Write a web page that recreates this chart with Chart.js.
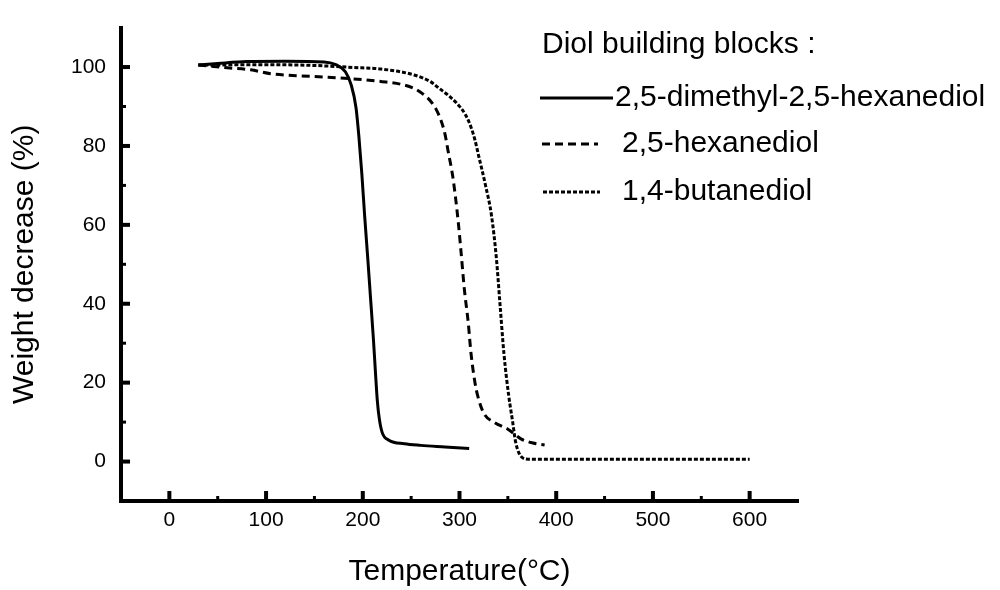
<!DOCTYPE html>
<html>
<head>
<meta charset="utf-8">
<script src="https://cdn.jsdelivr.net/npm/chart.js@4.4.1/dist/chart.umd.min.js"></script>
<style>
  html, body { margin: 0; padding: 0; background: #fff; }
  #wrap { width: 1000px; height: 590px; position: relative; }
</style>
</head>
<body>
<div id="wrap"><canvas id="chart-tga"></canvas></div>
<script>
/* -------------------------------------------------- */
/* Data                        */
/* -------------------------------------------------- */

const SERIES_LABELS = [
  '2,5-dimethyl-2,5-hexanediol',
  '2,5-hexanediol',
  '1,4-butanediol',
];

// 2,5-dimethyl-2,5-hexanediol (solid)
const TEMP_DMHD   = [30, 50, 80, 120, 160, 172, 182, 188, 193, 196, 199, 202, 205, 208, 211, 213, 215, 217, 220, 227, 243, 260, 285, 310];
const WEIGHT_DMHD = [100.5, 100.9, 101.4, 101.5, 101.3, 100.6, 98.8, 95.5, 89.7, 82.3, 73, 62, 52, 41.5, 31, 23, 15.5, 11, 7.4, 5.4, 4.5, 4.1, 3.7, 3.3];

// 2,5-hexanediol (dashed)
const TEMP_HD   = [30, 60, 84, 105, 150, 190, 220, 240, 253, 262, 270, 276, 281, 285, 288, 293, 296, 299, 302, 305, 309, 312, 316, 319, 325, 336, 350, 364, 376, 388];
const WEIGHT_HD = [100.5, 99.8, 99.3, 98.3, 97.6, 97, 96.3, 95.6, 94.6, 93.2, 91.4, 89.2, 86.4, 83, 79, 72.3, 66.7, 60, 52, 43.7, 35.3, 27.2, 20, 16.5, 12.3, 9.9, 8.2, 5.7, 4.7, 4.2];

// 1,4-butanediol (dotted)
const TEMP_BD   = [30, 100, 150, 190, 219, 253, 270, 279, 290, 298, 306, 312, 316, 320, 327, 333, 338, 342, 346, 351, 355, 358, 364, 371, 400, 500, 600];
const WEIGHT_BD = [100.5, 100.6, 100.4, 99.9, 99.5, 98, 96.3, 94.6, 92.5, 90.6, 88, 84.7, 81.5, 77.3, 69.9, 62.5, 51.9, 39.5, 27.2, 16.5, 10, 5, 1.2, 0.6, 0.6, 0.6, 0.6];

const X_TICKS = [0, 100, 200, 300, 400, 500, 600];
const X_MINOR = [50, 150, 250, 350, 450, 550];
const Y_TICKS = [0, 20, 40, 60, 80, 100];
const Y_MINOR = [10, 30, 50, 70, 90];

const FONT = "'Liberation Sans', Arial, Helvetica, sans-serif";

/* -------------------------------------------------- */
/* Helpers                                             */
/* -------------------------------------------------- */

function toPoints(xs, ys) {
  return xs.map((x, i) => ({ x, y: ys[i] }));
}

function line(ctx, x1, y1, x2, y2) {
  ctx.beginPath();
  ctx.moveTo(x1, y1);
  ctx.lineTo(x2, y2);
  ctx.stroke();
}

// inward tick marks, like the original plot
const innerTicks = {
  id: 'innerTicks',
  afterDraw(chart) {
    const { ctx, chartArea: a, scales: { x, y } } = chart;
    ctx.save();
    ctx.strokeStyle = '#000';
    ctx.lineWidth = 4;
    X_TICKS.forEach(v => { const px = x.getPixelForValue(v); line(ctx, px, a.bottom, px, a.bottom - 10); });
    Y_TICKS.forEach(v => { const py = y.getPixelForValue(v); line(ctx, a.left, py, a.left + 9, py); });
    ctx.lineWidth = 3;
    X_MINOR.forEach(v => { const px = x.getPixelForValue(v); line(ctx, px, a.bottom, px, a.bottom - 5); });
    Y_MINOR.forEach(v => { const py = y.getPixelForValue(v); line(ctx, a.left, py, a.left + 5, py); });
    ctx.restore();
  },
};

// legend block in the top right corner
const diolLegend = {
  id: 'diolLegend',
  afterDraw(chart) {
    const { ctx } = chart;
    ctx.save();
    ctx.fillStyle = '#000';
    ctx.font = '30px ' + FONT;
    ctx.textBaseline = 'middle';
    ctx.fillText('Diol building blocks :', 542, 45);

    const rows = [
      { y: 98,  x0: 540, x1: 613, tx: 615 },
      { y: 144, x0: 542, x1: 598, tx: 622 },
      { y: 192, x0: 543, x1: 600, tx: 622 },
    ];
    chart.data.datasets.forEach((ds, i) => {
      const r = rows[i];
      ctx.strokeStyle = '#000';
      ctx.lineWidth = ds.borderWidth;
      ctx.setLineDash(ds.borderDash || []);
      line(ctx, r.x0, r.y, r.x1, r.y);
      ctx.setLineDash([]);
      ctx.fillText(ds.label, r.tx, r.y);
    });
    ctx.restore();
  },
};

/* -------------------------------------------------- */
/* Chart                                               */
/* -------------------------------------------------- */

const ctx = document.getElementById('chart-tga').getContext('2d');
new Chart(ctx, {
  type: 'line',
  data: {
    datasets: [
      {
        label: SERIES_LABELS[0],
        data: toPoints(TEMP_DMHD, WEIGHT_DMHD),
        borderColor: '#000',
        borderWidth: 3,
        pointRadius: 0,
        cubicInterpolationMode: 'monotone',
      },
      {
        label: SERIES_LABELS[1],
        data: toPoints(TEMP_HD, WEIGHT_HD),
        borderColor: '#000',
        borderWidth: 3,
        borderDash: [8, 5],
        pointRadius: 0,
        cubicInterpolationMode: 'monotone',
      },
      {
        label: SERIES_LABELS[2],
        data: toPoints(TEMP_BD, WEIGHT_BD),
        borderColor: '#000',
        borderWidth: 3,
        borderDash: [4, 2],
        pointRadius: 0,
        cubicInterpolationMode: 'monotone',
      },
    ],
  },
  options: {
    responsive: true,
    maintainAspectRatio: false,
    animation: false,
    layout: { padding: { top: 14, right: 202, left: 0, bottom: 0 } },
    plugins: {
      legend: { display: false },
      tooltip: { enabled: false },
    },
    scales: {
      x: {
        type: 'linear',
        min: -50,
        max: 650,
        afterFit: s => { s.height = 89; },
        afterBuildTicks: s => { s.ticks = X_TICKS.map(v => ({ value: v })); },
        grid: { display: false, drawTicks: false },
        border: { display: true, color: '#000', width: 4 },
        ticks: { color: '#000', padding: 7, font: { family: FONT, size: 21 } },
        title: {
          display: true,
          text: 'Temperature(°C)',
          color: '#000',
          padding: { top: 0, bottom: 0 },
          font: { family: FONT, size: 30 },
        },
      },
      y: {
        type: 'linear',
        min: -10,
        max: 110,
        afterFit: s => { s.width = 121; },
        afterBuildTicks: s => { s.ticks = Y_TICKS.map(v => ({ value: v })); },
        grid: { display: false, drawTicks: false },
        border: { display: true, color: '#000', width: 4 },
        ticks: { color: '#000', padding: 15, font: { family: FONT, size: 21 } },
        title: {
          display: true,
          text: 'Weight decrease (%)',
          color: '#000',
          padding: { top: 7, bottom: 0 },
          font: { family: FONT, size: 30 },
        },
      },
    },
  },
  plugins: [innerTicks, diolLegend],
});
</script>
</body>
</html>
